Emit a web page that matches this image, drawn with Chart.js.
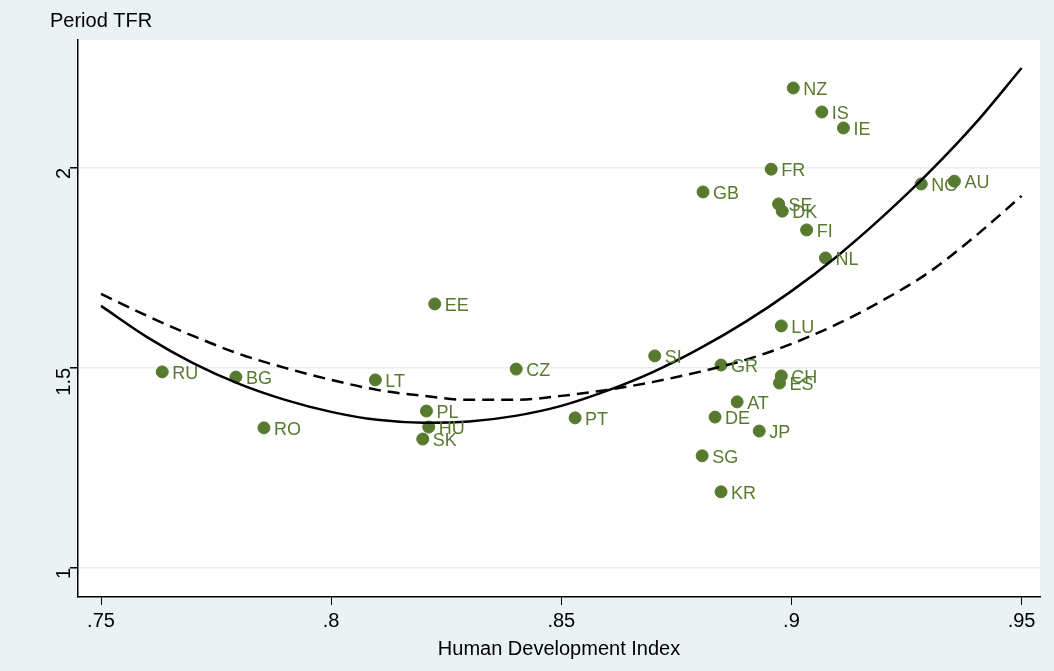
<!DOCTYPE html>
<html><head><meta charset="utf-8">
<script src="https://cdn.jsdelivr.net/npm/chart.js@4"></script>
<style>
html,body{margin:0;padding:0;background:#eaf2f3;}
#wrap{width:1054px;height:671px;position:relative;}
</style></head>
<body><div id="wrap"><canvas id="c" width="1054" height="671"></canvas></div>
<script>
var countries = ['RU','BG','RO','LT','PL','HU','SK','EE','CZ','PT','SI','GR','SG','KR','DE','AT','JP','CH','ES','LU','GB','FR','SE','DK','FI','NL','NZ','IS','IE','NO','AU'];
var hdi = [.7633,.7793,.7854,.8096,.8207,.8212,.8199,.8225,.8402,.853,.8703,.8847,.8806,.8847,.8834,.8882,.893,.8978,.8974,.8978,.8808,.8956,.8972,.898,.9033,.9074,.9004,.9066,.9113,.9282,.9354];
var tfr = [1.49,1.477,1.35,1.47,1.392,1.352,1.322,1.66,1.497,1.375,1.53,1.507,1.28,1.19,1.377,1.415,1.342,1.48,1.462,1.605,1.94,1.997,1.91,1.892,1.845,1.775,2.2,2.14,2.1,1.96,1.967];
var fitX = [.75,.76,.77,.78,.79,.80,.81,.82,.83,.84,.85,.86,.87,.88,.89,.90,.91,.92,.93,.94,.95];
var fitSolid = [1.655,1.577,1.512,1.46,1.42,1.39,1.37,1.363,1.366,1.38,1.405,1.443,1.49,1.548,1.615,1.692,1.78,1.88,1.99,2.112,2.25];
var fitDash = [1.685,1.63,1.58,1.535,1.5,1.47,1.445,1.43,1.42,1.42,1.43,1.445,1.465,1.49,1.52,1.56,1.61,1.67,1.74,1.83,1.93];
var xTicks = [.75,.8,.85,.9,.95];
var yTicks = [1,1.5,2];

var green = '#587a2f';
function pts(xs, ys){ return xs.map(function(x,i){ return {x:x, y:ys[i]}; }); }

var bgPlugin = {
	id:'bg',
	beforeDraw:function(ch){
		var a = ch.chartArea, c = ch.ctx;
		c.save(); c.fillStyle='#eaf2f3'; c.fillRect(0,0,ch.width,ch.height);
		c.fillStyle='#fff'; c.fillRect(a.left,a.top,a.right-a.left,a.bottom-a.top); c.restore();
	},
	afterDatasetsDraw:function(ch){
		var c = ch.ctx, m = ch.getDatasetMeta(2);
		c.save(); c.fillStyle=green; c.font='18px "Liberation Sans", Arial, sans-serif';
		c.textBaseline='middle';
		m.data.forEach(function(p,i){ c.fillText(countries[i], p.x+10, p.y+2); });
		c.font='20px "Liberation Sans", Arial, sans-serif'; c.fillStyle='#000';
		c.textBaseline='alphabetic'; c.fillText('Period TFR', 50, 27);
		c.restore();
	}
};

new Chart(document.getElementById('c'), {
	type:'scatter',
	data:{datasets:[
		{type:'line', data:pts(fitX,fitSolid), borderColor:'#000', borderWidth:2.5, pointRadius:0, cubicInterpolationMode:'monotone', fill:false},
		{type:'line', data:pts(fitX,fitDash), borderColor:'#000', borderWidth:2.5, borderDash:[12,7], pointRadius:0, cubicInterpolationMode:'monotone', fill:false},
		{data:pts(hdi,tfr), backgroundColor:green, borderColor:green, pointRadius:6}
	]},
	options:{
		responsive:false, animation:false,
		layout:{padding:{top:40,right:14,left:0,bottom:10}},
		plugins:{legend:{display:false}, tooltip:{enabled:false}},
		scales:{
			x:{type:'linear', min:.745, max:.954,
				afterBuildTicks:function(s){ s.ticks = xTicks.map(function(v){return {value:v};}); },
				ticks:{color:'#000', font:{size:20, family:'"Liberation Sans", Arial'}, padding:4,
					callback:function(v){ return String(v).replace(/^0/,''); }},
				grid:{drawOnChartArea:false, tickLength:8, color:'#000'},
				border:{color:'#000', width:1.5},
				title:{display:true, text:'Human Development Index', color:'#000', font:{size:20, family:'"Liberation Sans", Arial'}, padding:{top:0,bottom:0}}
			},
			y:{type:'linear', min:0.927, max:2.32,
				afterBuildTicks:function(s){ s.ticks = yTicks.map(function(v){return {value:v};}); },
				ticks:{color:'#000', font:{size:20, family:'"Liberation Sans", Arial'}, padding:6, maxRotation:90, minRotation:90,
					callback:function(v){ return String(v); }},
				grid:{color:'#e6eef0', tickLength:8, lineWidth:1.5, tickColor:'#000'},
				border:{color:'#000', width:1.5},
				afterFit:function(s){ s.width = 78; }
			}
		}
	},
	plugins:[bgPlugin]
});
</script></body></html>
